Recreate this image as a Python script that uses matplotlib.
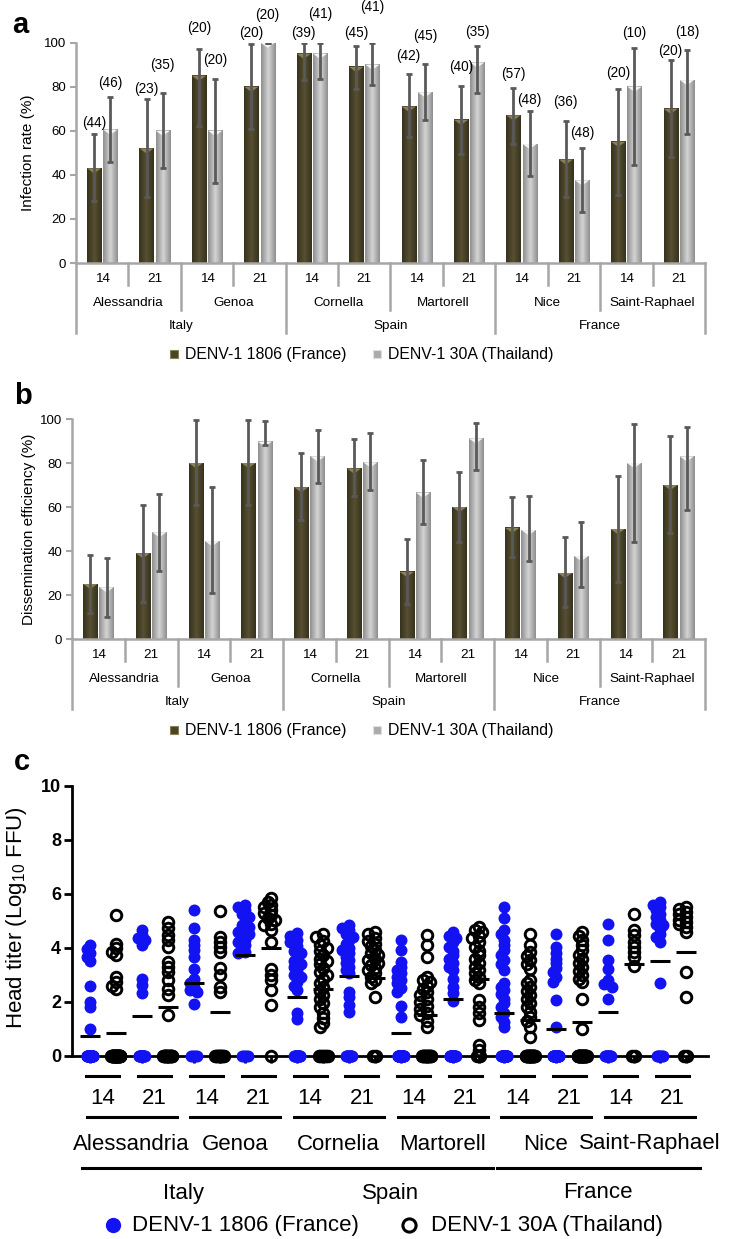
import numpy as np
import matplotlib.pyplot as plt
from matplotlib.colors import LinearSegmentedColormap
from matplotlib.lines import Line2D
from matplotlib.patches import Polygon
from matplotlib.transforms import blended_transform_factory

plt.rcParams['font.family'] = ['Liberation Sans', 'DejaVu Sans']
plt.rcParams['mathtext.fontset'] = 'custom'
plt.rcParams['mathtext.rm'] = 'Liberation Sans'

# ---------------- data ----------------
days = ['14', '21'] * 6
sites_ab = ['Alessandria', 'Genoa', 'Cornella', 'Martorell', 'Nice', 'Saint-Raphael']
sites_c = ['Alessandria', 'Genoa', 'Cornelia', 'Martorell', 'Nice', 'Saint-Raphael']
countries = ['Italy', 'Spain', 'France']
strains = ['DENV-1 1806 (France)', 'DENV-1 30A (Thailand)']

# a: infection rate (%) with CI bounds and number of mosquitoes tested
inf_1806 = [43, 52, 85, 80, 95, 89, 71, 65, 67, 47, 55, 70]
inf_1806_lo = [28, 30, 62, 61, 83, 79, 57, 49.5, 54, 30, 31, 48]
inf_1806_hi = [58.5, 74.5, 97, 99.5, 99.7, 98.5, 86, 80.5, 79.5, 64.5, 79, 92]
inf_30a = [60.5, 60, 60, 100, 95, 90, 77.5, 91, 54, 37.5, 80, 83]
inf_30a_lo = [46, 43, 36.5, 100, 83.5, 81, 65, 77, 39.5, 23, 44.5, 58.5]
inf_30a_hi = [75.5, 77, 83.5, 100, 99.7, 99.7, 90.5, 98.5, 69, 52, 97.5, 96.7]
n_1806 = [44, 23, 20, 20, 39, 45, 42, 40, 57, 36, 20, 20]
n_30a = [46, 35, 20, 20, 41, 41, 45, 35, 48, 48, 10, 18]

# b: dissemination efficiency (%)
dis_1806 = [25, 39, 80, 80, 69, 77.5, 30.5, 60, 50.5, 30, 50, 70]
dis_1806_lo = [12, 17, 61, 61, 54, 65, 16, 44, 37.5, 14.5, 26, 48]
dis_1806_hi = [38, 61, 99.5, 99.5, 84.5, 91, 45.5, 76, 64.5, 46.5, 74, 92.3]
dis_30a = [23.5, 48.5, 44.5, 89.7, 83, 80.3, 66.5, 91.2, 49.5, 37.7, 80, 83]
dis_30a_lo = [10, 31, 21, 88.2, 71, 67.7, 52.3, 77, 35.3, 23.8, 44.2, 58.6]
dis_30a_hi = [36.7, 66, 69, 99, 95, 93.5, 81.4, 98.3, 65, 53, 97.6, 96.5]

# c: head titers (log10 FFU), positive heads, means and number of negative heads
head_1806 = [
    [4.1, 3.95, 3.8, 3.65, 3.5, 2.6, 2.0, 1.8, 1.0],
    [4.65, 4.47, 4.35, 4.28, 4.1, 2.86, 2.62, 2.31],
    [5.4, 4.72, 4.28, 4.1, 3.91, 3.67, 3.23, 2.86, 2.7, 2.56, 2.45, 2.37, 1.91],
    [5.58, 5.5, 5.4, 5.25, 5.15, 4.96, 4.85, 4.78, 4.65, 4.59, 4.5, 4.41, 4.3, 4.22, 4.1, 3.98, 3.85, 3.79],
    [4.55, 4.45, 4.3, 4.2, 4.05, 3.9, 3.8, 3.65, 3.5, 3.4, 3.3, 3.15, 3.0, 2.9, 2.75, 2.6, 2.45, 1.6, 1.35],
    [4.84, 4.75, 4.65, 4.5, 4.41, 4.3, 4.16, 4.0, 3.91, 3.8, 3.67, 3.55, 3.42, 3.3, 3.17, 3.05, 2.37, 2.19, 1.88, 1.63],
    [4.28, 3.91, 3.48, 3.3, 3.17, 3.05, 2.93, 2.8, 2.68, 2.5, 2.37, 1.84, 1.42],
    [4.59, 4.45, 4.35, 4.2, 4.04, 3.9, 3.73, 3.6, 3.42, 3.3, 3.17, 2.86, 2.56, 2.31, 2.04],
    [5.52, 5.09, 4.65, 4.5, 4.28, 4.1, 3.91, 3.75, 3.54, 3.4, 3.17, 2.68, 2.55, 2.43, 2.3, 2.12, 1.95, 1.81, 1.6, 1.44, 1.25, 1.07],
    [4.53, 4.04, 3.79, 3.6, 3.42, 3.25, 3.11, 2.9, 2.74, 2.06, 1.07],
    [4.9, 4.28, 3.54, 3.23, 2.8, 2.65, 2.56, 2.12],
    [5.7, 5.6, 5.52, 5.4, 5.27, 5.15, 5.02, 4.9, 4.84, 4.7, 4.53, 4.4, 4.22, 2.7],
]
head_30a = [
    [5.2, 4.16, 3.98, 3.85, 3.73, 2.93, 2.74, 2.6, 2.46],
    [4.96, 4.72, 4.47, 4.28, 4.04, 3.48, 3.3, 3.11, 2.8, 2.49, 2.25, 1.5],
    [5.36, 4.41, 4.22, 4.04, 3.85, 3.27, 2.99, 2.56, 2.37],
    [5.83, 5.7, 5.58, 5.5, 5.4, 5.3, 5.21, 5.1, 5.02, 4.9, 4.84, 4.65, 4.22, 3.23, 2.99, 2.8, 2.43, 1.88],
    [4.5, 4.4, 4.25, 4.1, 4.0, 3.9, 3.75, 3.6, 3.5, 3.4, 3.25, 3.1, 3.0, 2.85, 2.7, 2.55, 2.4, 2.25, 2.1, 1.95, 1.8, 1.6, 1.4, 1.2, 1.07],
    [4.59, 4.5, 4.35, 4.25, 4.16, 4.05, 3.91, 3.8, 3.73, 3.6, 3.54, 3.45, 3.36, 3.25, 3.17, 3.05, 2.93, 2.8, 2.68, 2.19],
    [4.47, 4.1, 3.67, 2.93, 2.8, 2.74, 2.6, 2.49, 2.35, 2.25, 2.1, 2.0, 1.85, 1.75, 1.6, 1.51, 1.3, 1.07],
    [4.78, 4.65, 4.59, 4.45, 4.35, 4.2, 4.04, 3.9, 3.73, 3.6, 3.42, 3.3, 3.17, 3.05, 2.93, 2.8, 2.68, 2.06, 1.81, 1.57, 1.32, 0.4, 0.2],
    [4.53, 4.1, 3.85, 3.7, 3.54, 3.4, 3.23, 2.8, 2.68, 2.56, 2.4, 2.25, 2.1, 1.94, 1.8, 1.63, 1.45, 1.3, 1.07, 0.7],
    [4.59, 4.45, 4.28, 4.1, 3.91, 3.75, 3.6, 3.45, 3.3, 3.15, 2.99, 2.85, 2.74, 2.12, 0.98],
    [5.27, 4.65, 4.47, 4.22, 4.04, 3.85, 3.67, 3.32],
    [5.52, 5.45, 5.33, 5.25, 5.15, 5.05, 4.96, 4.88, 4.78, 4.59, 3.11, 2.19],
]
mean_1806 = [0.74, 1.48, 2.68, 3.73, 2.16, 2.96, 0.83, 2.10, 1.59, 0.99, 1.63, 3.51]
mean_30a = [0.83, 1.79, 1.63, 3.98, 2.46, 2.89, 1.51, 2.83, 1.32, 1.26, 3.40, 3.85]
zeros_1806 = [33, 14, 4, 4, 12, 10, 29, 16, 28, 25, 10, 6]
zeros_30a = [35, 18, 11, 1, 7, 2, 15, 3, 24, 30, 2, 2]

# ---------------- layout helpers ----------------
W, H = 737, 1239
fig = plt.figure(figsize=(W / 100, H / 100), dpi=100)


def fx(px):
    return px / W


def fy(py):
    return 1 - py / H


def rect(l, t, r, b):
    return [l / W, 1 - b / H, (r - l) / W, (b - t) / H]


GRAY = '#a6a6a6'
BAR_DARK = '#4a4328'
BAR_LIGHT = '#ababab'
BLUE = '#1212f2'
dark_cmap = LinearSegmentedColormap.from_list('dk', ['#37321d', '#575032', '#37321d'])
light_cmap = LinearSegmentedColormap.from_list('lt', ['#8e8e8e', '#d4d4d4', '#8e8e8e'])
ramp = np.linspace(0, 1, 64)[None, :]


def bar_panel(box, zero_px, v1, lo1, hi1, v2, lo2, hi2, ylabel, ylab_x):
    ax = fig.add_axes(rect(*box))
    x = np.arange(len(days))
    w, off = 0.27, 0.155
    series = ((x - off, v1, lo1, hi1, dark_cmap, '#8a7f55'),
              (x + off, v2, lo2, hi2, light_cmap, '#f4f4f4'))
    for xs, vals, lo, hi, cmap, bevel in series:
        vals = np.asarray(vals, float)
        for xc, v in zip(xs, vals):
            ax.imshow(ramp, cmap=cmap, extent=(xc - w / 2, xc + w / 2, 0, v),
                      aspect='auto', interpolation='bilinear', zorder=2)
            ax.add_patch(Polygon([(xc - w / 2, v), (xc + w / 2, v), (xc, v - 2.3)],
                                 closed=True, color=bevel, lw=0, zorder=3))
        ax.errorbar(xs, vals, yerr=[vals - np.asarray(lo), np.asarray(hi) - vals],
                    fmt='none', ecolor='#595959', elinewidth=2, capsize=2.3,
                    capthick=2, zorder=4)
    ax.set_xlim(-0.5, 11.5)
    ax.set_ylim(0, 100)
    ax.set_aspect('auto')
    for s in ('top', 'right'):
        ax.spines[s].set_visible(False)
    for s in ('left', 'bottom'):
        ax.spines[s].set_color(GRAY)
        ax.spines[s].set_linewidth(1.8)
    ax.set_xticks([])
    ax.set_yticks(range(0, 101, 20))
    ax.tick_params(axis='y', colors=GRAY, length=4, width=1.5, labelsize=9.5,
                   labelcolor='black', pad=3)
    fig.text(fx(ylab_x), fy((box[1] + box[3]) / 2), ylabel, rotation=90,
             ha='center', va='center', fontsize=11)

    # multi-level category axis
    tr = blended_transform_factory(ax.transData, fig.transFigure)
    for b in range(len(days) + 1):
        depth = 70 if b % 4 == 0 else (47 if b % 2 == 0 else 22)
        fig.add_artist(Line2D([b - 0.5, b - 0.5], [fy(zero_px), fy(zero_px + depth)],
                              transform=tr, color=GRAY, lw=1.8))
    for i, d in enumerate(days):
        ax.text(i, fy(zero_px + 16), d, transform=tr, ha='center', va='center', fontsize=9.7)
    for k, s in enumerate(sites_ab):
        ax.text(2 * k + 0.5, fy(zero_px + 40), s, transform=tr, ha='center', va='center', fontsize=9.7)
    for c, s in enumerate(countries):
        ax.text(4 * c + 1.5, fy(zero_px + 63), s, transform=tr, ha='center', va='center', fontsize=9.7)

    # legend
    ly = fy(zero_px + 91)
    for (mx, tx), col, edge, lab in (((174, 185), BAR_DARK, '#8a7f55', strains[0]),
                                     ((377, 388), BAR_LIGHT, '#e0e0e0', strains[1])):
        fig.add_artist(Line2D([fx(mx)], [ly], transform=fig.transFigure, marker='s',
                              ms=5.5, mfc=col, mec=edge, mew=0.8, ls='none'))
        fig.text(fx(tx), ly, lab, ha='left', va='center', fontsize=11.4)
    return ax


# ---------------- panel a ----------------
ax_a = bar_panel((76, 42.7, 705, 263), 263, inf_1806, inf_1806_lo, inf_1806_hi,
                 inf_30a, inf_30a_lo, inf_30a_hi, 'Infection rate (%)', 28)
lab_y_1806 = [63.5, 78.8, 106.7, 104.4, 104.4, 104.4, 94, 89.1, 85.8, 73.2, 86.1, 96.4]
lab_y_30a = [81.7, 89.9, 92.1, 112.6, 113, 116.2, 103, 105, 74, 59.1, 104.3, 104.7]
for i in range(len(days)):
    ax_a.text(i - 0.155, lab_y_1806[i], f'({n_1806[i]})', ha='center', va='center',
              fontsize=9.8, clip_on=False)
    ax_a.text(i + 0.155, lab_y_30a[i], f'({n_30a[i]})', ha='center', va='center',
              fontsize=9.8, clip_on=False)
fig.text(fx(20), fy(25), 'a', fontsize=21, fontweight='bold', ha='center', va='center')

# ---------------- panel b ----------------
bar_panel((72, 419, 705, 639), 639, dis_1806, dis_1806_lo, dis_1806_hi,
          dis_30a, dis_30a_lo, dis_30a_hi, 'Dissemination efficiency (%)', 29)
fig.text(fx(23), fy(396), 'b', fontsize=21, fontweight='bold', ha='center', va='center')

# ---------------- panel c ----------------
PXX, PXY = 25.9, 26.97   # pixels per x unit / per log unit
axc = fig.add_axes(rect(72, 786, 708, 1055.7))
axc.set_xlim(-18 / PXX, 618 / PXX)
axc.set_ylim(0, 10)


def swarm(vals, step=3.5, mind=4.5):
    # GraphPad-like scatter: shift dots sideways when they sit too close
    cands = (0, -step, step, -2 * step, 2 * step)
    placed, offs = [], []
    for v in vals:
        y = v * PXY
        best, best_d = 0, -1
        for o in cands:
            dmin = min([np.hypot(o - po, y - py) for po, py in placed] + [99])
            if dmin >= mind:
                best = o
                break
            if dmin > best_d:
                best, best_d = o, dmin
        placed.append((best, y))
        offs.append(best)
    return np.array(offs)


for j in range(12):
    groups = ((head_1806, mean_1806, zeros_1806), (head_30a, mean_30a, zeros_30a))
    for s, (titers, means, zeros) in enumerate(groups):
        xi = 2 * j + s
        vals = np.array(titers[j], float)
        nz = zeros[j]
        spread = 1.5 if nz <= 3 else (3 if s == 0 else 4.5)
        zoffs = np.linspace(-spread, spread, nz) if nz > 1 else np.zeros(nz)
        xs = xi + np.concatenate([swarm(vals), zoffs]) / PXX
        ys = np.concatenate([vals, np.zeros(nz)])
        if s == 0:
            axc.plot(xs, ys, 'o', ms=8.6, mfc=BLUE, mec='none', ls='none',
                     clip_on=False, zorder=3)
        else:
            axc.plot(xs, ys, 'o', ms=7.6, mfc='none', mec='black', mew=2.1,
                     ls='none', clip_on=False, zorder=3)
        axc.plot([xi - 10 / PXX, xi + 10 / PXX], [means[j]] * 2, color='black',
                 lw=2.2, solid_capstyle='butt', zorder=5)

for s in ('top', 'right'):
    axc.spines[s].set_visible(False)
for s in ('left', 'bottom'):
    axc.spines[s].set_linewidth(2)
axc.spines['bottom'].set_zorder(2)
axc.set_xticks(np.arange(24))
axc.tick_params(axis='x', length=5, width=2, labelbottom=False)
axc.set_yticks(range(0, 11, 2))
axc.tick_params(axis='y', length=6, width=2, pad=2, labelsize=13)
for t in axc.get_yticklabels():
    t.set_fontweight('bold')
fig.text(fx(17), fy(918), r'Head titer (Log$_{\mathregular{10}}$ FFU)', rotation=90,
         ha='center', va='center', fontsize=16)
fig.text(fx(22), fy(762), 'c', fontsize=21, fontweight='bold', ha='center', va='center')

trc = blended_transform_factory(axc.transData, fig.transFigure)
for j, d in enumerate(days):
    fig.add_artist(Line2D([2 * j - 0.137, 2 * j + 1.137], [fy(1076)] * 2, transform=trc,
                          color='black', lw=2.2))
    axc.text(2 * j + 0.5, fy(1099), d, transform=trc, ha='center', va='center', fontsize=16)
for k, s in enumerate(sites_c):
    fig.add_artist(Line2D([4 * k - 0.12, 4 * k + 3.35], [fy(1117)] * 2, transform=trc,
                          color='black', lw=2.2))
    axc.text(4 * k + 1.6, fy(1144), s, transform=trc, ha='center', va='center', fontsize=16)
for c, s in enumerate(countries):
    fig.add_artist(Line2D([8 * c - 0.3, 8 * c + 7.55], [fy(1168)] * 2, transform=trc,
                          color='black', lw=2.2))
    axc.text(8 * c + 3.6, fy(1193), s, transform=trc, ha='center', va='center', fontsize=16)

# legend c
ly = fy(1225)
fig.add_artist(Line2D([fx(113)], [ly], transform=fig.transFigure, marker='o', ms=11,
                      mfc=BLUE, mec='none', ls='none'))
fig.text(fx(132), ly, strains[0], ha='left', va='center', fontsize=16)
fig.add_artist(Line2D([fx(409)], [ly], transform=fig.transFigure, marker='o', ms=9.5,
                      mfc='none', mec='black', mew=2.2, ls='none'))
fig.text(fx(431), ly, strains[1], ha='left', va='center', fontsize=16)

fig.savefig('out.png', dpi=100)
